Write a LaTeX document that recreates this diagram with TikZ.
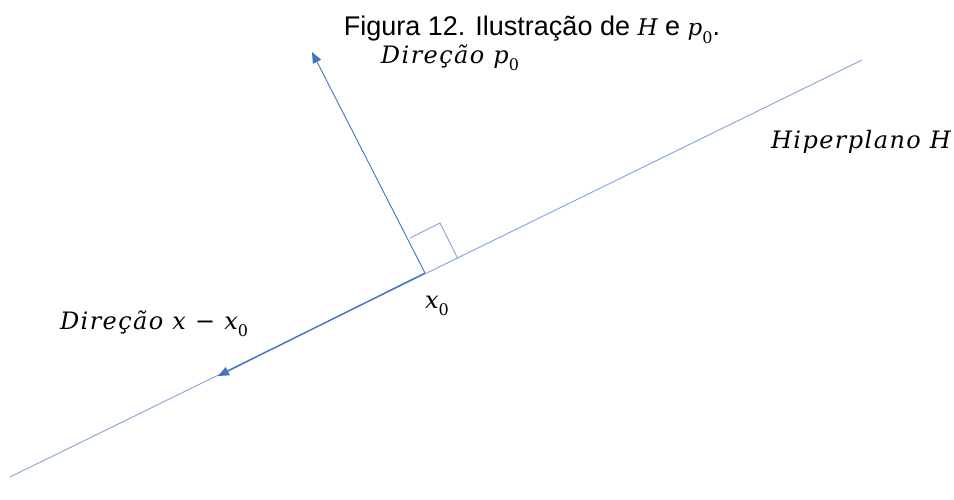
\documentclass[tikz,border=0pt]{standalone}
\usepackage{fontspec}
\newfontfamily\arialf{Liberation Sans}
\newfontfamily\citf{DejaVu Serif}[LetterSpace=6]
\newfontfamily\crmf{DejaVu Serif}
\newcommand\zsub{\raisebox{-0.3em}{\crmf\upshape\fontsize{16}{16}\selectfont 0}}
\usetikzlibrary{arrows.meta}
\definecolor{hline}{RGB}{143,170,220}
\definecolor{arrblue}{RGB}{68,114,196}
\begin{document}
\begin{tikzpicture}[x=1pt,y=-1pt,
  hyper/.style={draw=hline,line width=1pt},
  vecarrow/.style={draw=arrblue,line width=0.9pt,-{Triangle[length=11pt,width=9pt]}},
  lbl/.style={inner sep=0pt,font=\citf\itshape\fontsize{24}{28}\selectfont},
  ttl/.style={inner sep=0pt,font=\arialf\fontsize{27}{30}\selectfont}]
\useasboundingbox (0,0) rectangle (954,499);
\coordinate (A) at (10,477);
\coordinate (B) at (862,60);
\coordinate (X0) at (425,273);
\coordinate (P) at (312,52);
\coordinate (XT) at (218,376);
\coordinate (R1) at (410,238);
\coordinate (R2) at (440,223);
\coordinate (R3) at (458,259);
\draw[hyper] (A) -- (B);
\draw[vecarrow] (X0) -- (P);
\draw[vecarrow,line width=1.3pt] (X0) -- (XT);
\draw[hyper] (R1) -- (R2) -- (R3);
\node[ttl] (title) at (532,30) {Figura 12. Ilustração de {\citf\itshape\fontsize{23}{26}\selectfont H} e {\citf\itshape\fontsize{23}{26}\selectfont p}\zsub.};
\node[lbl] (dp) at (450,58) {Direção p\zsub};
\node[lbl] (hp) at (861,142) {Hiperplano H};
\node[lbl] (x0l) at (437,306) {x\zsub};
\node[lbl] (dx) at (154,324) {Direção x {\crmf\upshape −} x\zsub};
\end{tikzpicture}
\end{document}
